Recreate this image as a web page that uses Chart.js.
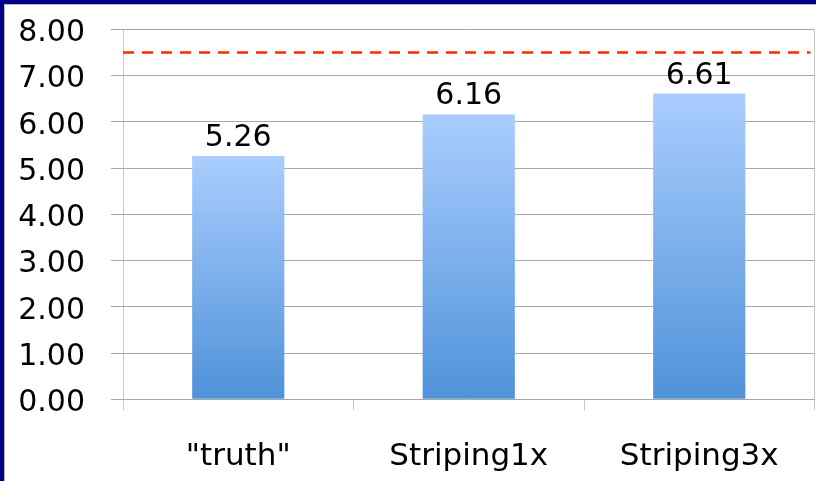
<!DOCTYPE html>
<html>
<head>
<meta charset="utf-8">
<script src="https://cdn.jsdelivr.net/npm/chart.js@4/dist/chart.umd.min.js"></script>
<style>
  html, body { margin: 0; padding: 0; background: #fff; }
  #frame {
    width: 816px; height: 481px; box-sizing: border-box;
    border-top: 4px solid #000088; border-left: 4px solid #000088;
    background: #fff;
  }
  #inner {
    width: 812px; height: 477px; box-sizing: border-box;
    border-top: 1px solid #b8b8b8; border-left: 1px solid #b8b8b8;
  }
  canvas { display: block; }
</style>
</head>
<body>
<div id="frame"><div id="inner"><canvas id="chart" width="811" height="476"></canvas></div></div>
<script>
// Categories and measured values
const categories = ['"truth"', 'Striping1x', 'Striping3x'];
const scores = [5.26, 6.16, 6.61];
// Dashed reference level drawn across the plot
const referenceLevel = [7.5];
// Value axis range and step
const yTicks = [0, 1, 2, 3, 4, 5, 6, 7, 8];

const FONT = '"DejaVu Sans", sans-serif';

// Vertical light-to-dark blue fill, computed per bar from its own height
function barGradient(ctx) {
  const chart = ctx.chart;
  if (!chart.chartArea || ctx.dataIndex === undefined) return '#7FB2EE';
  const y = chart.scales.y;
  const top = y.getPixelForValue(scores[ctx.dataIndex]);
  const bottom = y.getPixelForValue(0);
  const g = chart.ctx.createLinearGradient(0, top, 0, bottom);
  g.addColorStop(0, '#AACDFE');
  g.addColorStop(1, '#4F92D9');
  return g;
}

const referenceLine = {
  id: 'referenceLine',
  afterDatasetsDraw(chart) {
    const { ctx, chartArea } = chart;
    const y = chart.scales.y.getPixelForValue(referenceLevel[0]);
    ctx.save();
    ctx.strokeStyle = '#FF2A00';
    ctx.lineWidth = 2.5;
    ctx.setLineDash([11, 8]);
    ctx.beginPath();
    ctx.moveTo(chartArea.left, y);
    ctx.lineTo(chartArea.right - 4, y);
    ctx.stroke();
    ctx.restore();
  }
};

const valueLabels = {
  id: 'valueLabels',
  afterDatasetsDraw(chart) {
    const { ctx } = chart;
    const meta = chart.getDatasetMeta(0);
    ctx.save();
    ctx.font = '30px ' + FONT;
    ctx.fillStyle = '#000';
    ctx.textAlign = 'center';
    ctx.textBaseline = 'alphabetic';
    meta.data.forEach((bar, i) => {
      ctx.fillText(scores[i].toFixed(2), bar.x, bar.y - 10);
    });
    ctx.restore();
  }
};

new Chart(document.getElementById('chart'), {
  type: 'bar',
  data: {
    labels: categories,
    datasets: [{
      data: scores,
      backgroundColor: barGradient,
      borderWidth: 0,
      barPercentage: 0.8,
      categoryPercentage: 0.5
    }]
  },
  options: {
    responsive: false,
    animation: false,
    events: [],
    layout: { padding: { top: 24.3, right: 1.5, left: 0, bottom: 0 } },
    plugins: { legend: { display: false }, tooltip: { enabled: false } },
    scales: {
      x: {
        offset: true,
        border: { display: false },
        grid: {
          offset: true,
          tickLength: 11,
          color: c => (c.index === 0 || c.index === undefined) ? '#C8C8C8' : 'rgba(0,0,0,0)',
          tickColor: '#C8C8C8',
          lineWidth: 1
        },
        ticks: { font: { family: FONT, size: 31 }, color: '#000', padding: 28 },
        afterFit: s => { s.height = 81.7; }
      },
      y: {
        min: yTicks[0],
        max: yTicks[yTicks.length - 1],
        border: { display: false },
        grid: { color: '#A8A8A8', tickLength: 12, lineWidth: 1 },
        afterBuildTicks: s => { s.ticks = yTicks.map(v => ({ value: v })); },
        ticks: {
          font: { family: FONT, size: 30 },
          color: '#000',
          padding: 26,
          labelOffset: 4,
          callback: v => Number(v).toFixed(2)
        },
        afterFit: s => { s.width = 118; s.paddingTop = 0; s.paddingBottom = 0; }
      }
    }
  },
  plugins: [referenceLine, valueLabels]
});
</script>
</body>
</html>
